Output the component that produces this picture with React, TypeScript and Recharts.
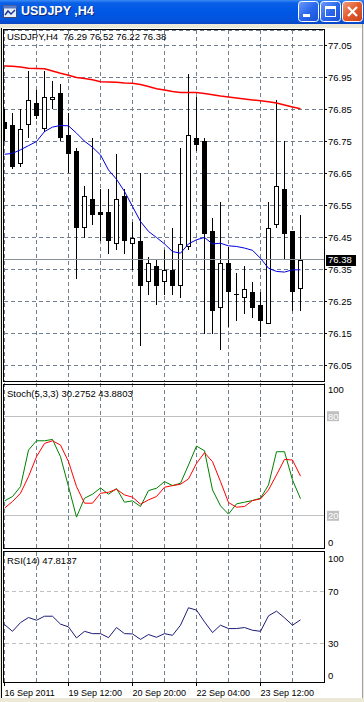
import React from 'react';
import { ComposedChart, Bar, Line, XAxis, YAxis, CartesianGrid, ReferenceLine } from 'recharts';

const symbol = 'USDJPY';
const timeframe = 'H4';

const opens = [76.81, 76.80, 76.68, 76.80, 76.87, 76.79, 76.88, 76.90, 76.77, 76.72, 76.48, 76.57, 76.53, 76.53, 76.43, 76.58, 76.43, 76.44, 76.31, 76.36, 76.31, 76.35, 76.30, 76.42, 76.76, 76.75, 76.47, 76.23, 76.37, 76.274, 76.26, 76.28, 76.24, 76.18, 76.49, 76.60, 76.47, 76.29];
const highs = [76.85, 76.84, 76.85, 76.97, 76.91, 76.97, 76.94, 76.93, 76.84, 76.73, 76.61, 76.76, 76.60, 76.60, 76.71, 76.60, 76.50, 76.65, 76.39, 76.38, 76.41, 76.48, 76.73, 76.96, 76.89, 76.76, 76.51, 76.56, 76.42, 76.34, 76.36, 76.31, 76.28, 76.56, 76.88, 76.75, 76.47, 76.52];
const lows = [76.75, 76.665, 76.67, 76.76, 76.82, 76.78, 76.85, 76.75, 76.65, 76.32, 76.45, 76.49, 76.44, 76.40, 76.41, 76.40, 76.35, 76.11, 76.27, 76.24, 76.27, 76.27, 76.26, 76.41, 76.72, 76.15, 76.15, 76.10, 76.17, 76.19, 76.21, 76.20, 76.14, 76.18, 76.48, 76.38, 76.22, 76.22];
const closes = [76.79, 76.67, 76.79, 76.88, 76.83, 76.89, 76.89, 76.76, 76.71, 76.48, 76.58, 76.52, 76.52, 76.44, 76.57, 76.44, 76.45, 76.30, 76.37, 76.30, 76.35, 76.30, 76.43, 76.77, 76.74, 76.46, 76.22, 76.37, 76.28, 76.272, 76.29, 76.23, 76.19, 76.48, 76.61, 76.46, 76.28, 76.38];

const maSlow = [76.986, 76.985, 76.983, 76.979, 76.978, 76.977, 76.970, 76.963, 76.957, 76.950, 76.947, 76.943, 76.937, 76.936, 76.935, 76.933, 76.932, 76.928, 76.922, 76.915, 76.911, 76.906, 76.903, 76.903, 76.903, 76.900, 76.896, 76.892, 76.889, 76.886, 76.883, 76.880, 76.877, 76.874, 76.870, 76.864, 76.858, 76.852];
const maFast = [76.710, 76.713, 76.724, 76.737, 76.750, 76.781, 76.795, 76.800, 76.799, 76.776, 76.751, 76.732, 76.708, 76.661, 76.632, 76.594, 76.547, 76.500, 76.469, 76.450, 76.430, 76.406, 76.401, 76.430, 76.443, 76.450, 76.430, 76.432, 76.424, 76.422, 76.417, 76.410, 76.385, 76.354, 76.344, 76.342, 76.349, 76.349];

const stochMain = [29, 31.6, 37.6, 59.6, 65.2, 65.2, 66, 55.6, 37.6, 19.2, 30.6, 33, 36.8, 33, 36.4, 28.2, 29, 25.6, 35.2, 36.6, 40.6, 38.2, 39.6, 50.6, 62, 59.2, 35.6, 26, 21, 27.2, 28.2, 29.2, 30.6, 38.6, 58.6, 58.6, 41.6, 30.2752];
const stochSignal = [24.6, 28.6, 33.6, 43.6, 55.6, 63.6, 65.2, 62.6, 52.6, 37.6, 27.6, 27.6, 33.6, 34.2, 36, 32.6, 31.2, 27, 29.6, 31.6, 37.2, 38.2, 39, 42.2, 51.6, 58, 52.6, 40.6, 28, 25.2, 25.6, 29.2, 30.2, 35.6, 44.6, 54, 53.6, 43.8803];
const rsi = [44.2, 39, 45.7, 49.6, 47.5, 50.6, 50.6, 44.5, 42.4, 33.9, 39, 37.2, 37.2, 34.1, 41.9, 37.2, 37, 32.8, 36.5, 34.4, 37.2, 35.9, 43.7, 57.1, 55.3, 46.3, 38, 43.7, 41.1, 41.1, 41.9, 39.8, 39, 50.9, 54.5, 49.4, 43.7, 47.8137];

const priceTicks = [77.05, 76.95, 76.85, 76.75, 76.65, 76.55, 76.45, 76.35, 76.25, 76.15, 76.05];
const gridBars = [4, 8, 12, 16, 20, 24, 28, 32, 36];
const dateLabelBars = [0, 8, 16, 24, 32];
const dateLabels = ['16 Sep 2011', '19 Sep 12:00', '20 Sep 20:00', '22 Sep 04:00', '23 Sep 12:00'];
const stochTicks = [0, 20, 80, 100];
const stochLevels = [20, 80];
const rsiTicks = [0, 30, 70, 100];
const rsiLevels = [30, 70];

const rows = opens.map((o, i) => ({
  i,
  open: o,
  high: highs[i],
  low: lows[i],
  close: closes[i],
  range: [lows[i], highs[i]],
  maSlow: maSlow[i],
  maFast: maFast[i],
  k: stochMain[i],
  d: stochSignal[i],
  rsi: rsi[i],
}));

const last = rows.length - 1;
const FONT = "'Liberation Sans', Arial, sans-serif";
const GRID = '#708090';
const X_DOMAIN: [number, number] = [-0.0625, 39.9375];

function Candle(props: any) {
  const { x, y, width, height, payload } = props;
  if (x == null || y == null || !payload) return null;
  const { open, close, high, low } = payload;
  const cx = Math.floor(x + width / 2) + 0.5;
  const k = height / (high - low);
  const py = (p: number) => y + (high - p) * k;
  const t = Math.round(py(Math.max(open, close)));
  const b = Math.max(Math.round(py(Math.min(open, close))), t + 1);
  const up = close > open;
  return (
    <g shapeRendering="crispEdges">
      <line x1={cx} x2={cx} y1={Math.round(y)} y2={Math.round(y + height)} stroke="#000" strokeWidth={1} />
      {up ? (
        <rect x={cx - 2} y={t + 0.5} width={4} height={Math.max(b - t - 1, 1)} fill="#fff" stroke="#000" strokeWidth={1} />
      ) : (
        <rect x={cx - 2.5} y={t} width={5} height={b - t} fill="#000" />
      )}
    </g>
  );
}

function PriceTick(props: any) {
  const { x, y, payload } = props;
  return (
    <text x={x} y={y + 3.5} fontSize={9.5} fontFamily={FONT} fill="#000" textAnchor="start">
      {Number(payload.value).toFixed(2)}
    </text>
  );
}

function makeOscTick(levels: number[], boxed: boolean) {
  return function OscTick(props: any) {
    const { x, y, payload } = props;
    const v = payload.value;
    let dy = 3.5;
    if (v === 100) dy = 10;
    if (v === 0) dy = -3;
    if (boxed && levels.includes(v)) {
      return (
        <g>
          <rect x={x - 1} y={y - 5} width={12} height={10} fill="#c0c0c0" />
          <text x={x} y={y + 3.5} fontSize={9.5} fontFamily={FONT} fill="#fff">{v}</text>
        </g>
      );
    }
    return (
      <text x={x} y={y + dy} fontSize={9.5} fontFamily={FONT} fill="#000">{v}</text>
    );
  };
}
const StochTick = makeOscTick(stochLevels, true);
const RsiTick = makeOscTick(rsiLevels, false);

function DateTick(props: any) {
  const { x, y, payload } = props;
  const idx = dateLabelBars.indexOf(payload.value);
  if (idx < 0) return null;
  return (
    <text x={x} y={y + 8} fontSize={9} fontFamily={FONT} fill="#000" textAnchor="start">
      {dateLabels[idx]}
    </text>
  );
}

function PriceLabel(props: any) {
  const vb = props.viewBox || {};
  const x = (vb.x || 0) + (vb.width || 0) + 2;
  const y = vb.y || 0;
  return (
    <g>
      <rect x={x} y={Math.round(y) - 5} width={30} height={11} fill="#000" />
      <text x={x + 2} y={y + 3.5} fontSize={9.5} fontFamily={FONT} fill="#fff">{closes[last].toFixed(2)}</text>
    </g>
  );
}

const frame = (top: number, height: number): React.CSSProperties => ({
  position: 'absolute', left: 3, top, width: 322, height, border: '1px solid #000',
  boxSizing: 'border-box', pointerEvents: 'none',
});

const textStyle: React.CSSProperties = {
  position: 'absolute', fontFamily: FONT, fontSize: 9.5, color: '#000', whiteSpace: 'pre', lineHeight: '11px',
};

function TitleBar() {
  return (
    <div style={{ position: 'absolute', left: 0, top: 0, width: 364, height: 24,
      background: 'linear-gradient(to bottom, #3b8cf5 0%, #0a5fe6 12%, #0058e6 45%, #0254dd 80%, #0a46c4 100%)' }}>
      <svg style={{ position: 'absolute', left: 3, top: 5 }} width={15} height={14}>
        <rect x={0.5} y={0.5} width={13} height={12} fill="#e8eef8" stroke="#404a70" />
        <rect x={0.5} y={0.5} width={13} height={3} fill="#5a7ac8" />
        <path d="M2 10 L5 6 L8 9 L12 5" stroke="#1a3a9a" strokeWidth={1.5} fill="none" />
      </svg>
      <div style={{ position: 'absolute', left: 21, top: 4, color: '#fff', fontFamily: FONT, fontWeight: 'bold',
        fontSize: 12.5, textShadow: '1px 1px 0 #0a2a80', whiteSpace: 'pre' }}>{`${symbol} ,${timeframe}`}</div>
      <svg style={{ position: 'absolute', left: 297, top: 1 }} width={67} height={22}>
        <defs>
          <linearGradient id="bb" x1="0" y1="0" x2="1" y2="1">
            <stop offset="0" stopColor="#6f9cf8" />
            <stop offset="0.5" stopColor="#2a68ee" />
            <stop offset="1" stopColor="#1a4fd0" />
          </linearGradient>
          <linearGradient id="rb" x1="0" y1="0" x2="1" y2="1">
            <stop offset="0" stopColor="#f0a080" />
            <stop offset="0.5" stopColor="#e25a2c" />
            <stop offset="1" stopColor="#c8401a" />
          </linearGradient>
        </defs>
        <rect x={1.5} y={0.5} width={20} height={20} rx={3} fill="url(#bb)" stroke="#fff" />
        <rect x={6} y={13} width={7} height={3} fill="#fff" />
        <rect x={23.5} y={0.5} width={20} height={20} rx={3} fill="url(#bb)" stroke="#fff" />
        <rect x={28.5} y={5.5} width={10} height={10} fill="none" stroke="#fff" />
        <rect x={28} y={5} width={11} height={3} fill="#fff" />
        <rect x={45.5} y={0.5} width={20} height={20} rx={3} fill="url(#rb)" stroke="#fff" />
        <path d="M51 6 L60 15 M60 6 L51 15" stroke="#fff" strokeWidth={2.2} />
      </svg>
    </div>
  );
}

export default function App() {
  return (
    <div style={{ position: 'absolute', left: 0, top: 0, width: 364, height: 702, background: '#fff', overflow: 'hidden' }}>
      <TitleBar />
      <div style={{ position: 'absolute', left: 0, top: 24, width: 364, height: 4, background: '#ece9d8' }} />
      <div style={{ position: 'absolute', left: 0, top: 24, width: 1, height: 678, background: '#ece9d8' }} />
      <div style={{ position: 'absolute', left: 1, top: 28, width: 1, height: 670, background: '#000' }} />
      <div style={{ position: 'absolute', left: 362, top: 24, width: 1, height: 678, background: '#a0a0a0' }} />
      <div style={{ position: 'absolute', left: 363, top: 24, width: 1, height: 678, background: '#ece9d8' }} />
      <div style={{ position: 'absolute', left: 0, top: 698, width: 364, height: 4, background: '#ece9d8' }} />

      {/* Main price panel */}
      <div style={{ position: 'absolute', left: 0, top: 30 }}>
        <ComposedChart width={364} height={351} data={rows} margin={{ top: 0, right: 0, bottom: 0, left: 4 }}>
          <CartesianGrid stroke={GRID} strokeDasharray="4 3" shapeRendering="crispEdges" />
          <XAxis type="number" dataKey="i" domain={X_DOMAIN} ticks={gridBars} hide allowDataOverflow />
          <YAxis orientation="right" width={40} domain={[76.0016, 77.0984]} ticks={priceTicks} interval={0}
            allowDataOverflow axisLine={false} tickLine={{ stroke: '#000' }} tickSize={3} tickMargin={1} tick={<PriceTick />} />
          <ReferenceLine y={closes[last]} stroke="#88909a" shapeRendering="crispEdges" label={<PriceLabel />} />
          <Bar dataKey="range" barSize={5} shape={<Candle />} isAnimationActive={false} />
          <Line dataKey="maSlow" type="linear" stroke="#ff0000" strokeWidth={1.5} dot={false} isAnimationActive={false} />
          <Line dataKey="maFast" type="linear" stroke="#0000e0" strokeWidth={1} dot={false} isAnimationActive={false} />
        </ComposedChart>
      </div>
      <div style={frame(29, 353)} />
      <div style={{ ...textStyle, left: 7, top: 31 }}>
        {`${symbol},${timeframe}  ${opens[last].toFixed(2)} ${highs[last].toFixed(2)} ${lows[last].toFixed(2)} ${closes[last].toFixed(2)}`}
      </div>

      {/* Stochastic panel */}
      <div style={{ position: 'absolute', left: 0, top: 383 }}>
        <ComposedChart width={364} height={166} data={rows} margin={{ top: 0, right: 0, bottom: 0, left: 4 }}>
          <CartesianGrid horizontal={false} stroke={GRID} strokeDasharray="4 3" shapeRendering="crispEdges" />
          <XAxis type="number" dataKey="i" domain={X_DOMAIN} ticks={gridBars} hide allowDataOverflow />
          <YAxis orientation="right" width={40} domain={[0, 100]} ticks={stochTicks} interval={0}
            axisLine={false} tickLine={false} tickSize={3} tickMargin={1} tick={<StochTick />} />
          {stochLevels.map((lv) => (
            <ReferenceLine key={lv} y={lv} stroke="#c0c0c0" shapeRendering="crispEdges" />
          ))}
          <Line dataKey="k" type="linear" stroke="#008000" strokeWidth={1} dot={false} isAnimationActive={false} />
          <Line dataKey="d" type="linear" stroke="#ff0000" strokeWidth={1} dot={false} isAnimationActive={false} />
        </ComposedChart>
      </div>
      <div style={frame(384, 165)} />
      <div style={{ ...textStyle, left: 7, top: 388 }}>
        {`Stoch(5,3,3) ${stochMain[last].toFixed(4)} ${stochSignal[last].toFixed(4)}`}
      </div>

      {/* RSI panel */}
      <div style={{ position: 'absolute', left: 0, top: 552 }}>
        <ComposedChart width={364} height={148} data={rows} margin={{ top: 0, right: 0, bottom: 0, left: 4 }}>
          <CartesianGrid xAxisId="grid" horizontal={false} stroke={GRID} strokeDasharray="4 3" shapeRendering="crispEdges" />
          <XAxis xAxisId="grid" type="number" dataKey="i" domain={X_DOMAIN} ticks={gridBars} hide allowDataOverflow />
          <XAxis xAxisId="dates" type="number" dataKey="i" domain={X_DOMAIN} ticks={dateLabelBars} interval={0}
            height={18} axisLine={false} tickLine={{ stroke: '#000' }} tickSize={4} tickMargin={2} tick={<DateTick />} allowDataOverflow />
          <YAxis orientation="right" width={40} domain={[0, 100]} ticks={rsiTicks} interval={0}
            axisLine={false} tickLine={false} tickSize={3} tickMargin={1} tick={<RsiTick />} />
          {rsiLevels.map((lv) => (
            <ReferenceLine key={lv} xAxisId="grid" y={lv} stroke="#c0c0c0" strokeDasharray="4 3" shapeRendering="crispEdges" />
          ))}
          <Line xAxisId="grid" dataKey="rsi" type="linear" stroke="#1c1c78" strokeWidth={1} dot={false} isAnimationActive={false} />
        </ComposedChart>
      </div>
      <div style={frame(551, 132)} />
      <div style={{ ...textStyle, left: 7, top: 555 }}>
        {`RSI(14) ${rsi[last].toFixed(4)}`}
      </div>
    </div>
  );
}
